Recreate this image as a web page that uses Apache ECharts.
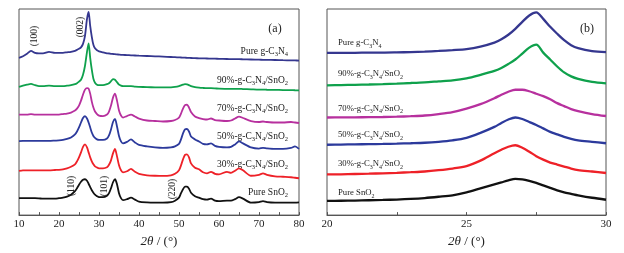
<!DOCTYPE html>
<html>
<head>
<meta charset="utf-8">
<script src="https://cdn.jsdelivr.net/npm/echarts@6/dist/echarts.min.js"></script>
<style>
  html, body { margin: 0; padding: 0; background: #fff; }
  #chart { width: 624px; height: 253px; }
</style>
</head>
<body>
<div id="chart"></div>
<script>
// panel (a): 2θ from 10 to 80, stacked patterns (offset intensity, a.u.)
var thetaA = [10, 11, 12, 13, 14, 15, 16, 17.5, 19, 20,
  21, 22, 23, 24, 24.5, 25, 25.5, 26, 26.5, 27,
  27.4, 27.8, 28.2, 28.6, 29, 29.5, 30, 31, 32, 32.5,
  33, 33.5, 34, 34.5, 35, 35.5, 36, 37, 38, 39,
  40, 42, 44, 46, 48, 49, 50, 50.5, 51, 51.5,
  52, 52.5, 53, 54, 55, 56, 57, 58, 59, 60,
  62, 63, 64, 65, 66, 68, 70, 71, 72, 74,
  76, 78, 79, 80];
var gcnA = [158, 159.5, 162, 165, 163, 162.5, 162.5, 164, 163, 163,
  163, 163.5, 164, 165, 166, 167, 168.5, 172, 180, 197,
  204, 190, 179, 171, 167.5, 165.5, 164.5, 163.5, 162.5, 162.3,
  162, 161.8, 161.6, 161.4, 161.2, 161, 160.9, 160.7, 160.5, 160.3,
  160.1, 159.8, 159.5, 159.2, 158.8, 158.6, 158.4, 158.3, 158.2, 158.1,
  158, 157.9, 157.8, 157.6, 157.5, 157.4, 157.3, 157.2, 157.1, 157,
  156.8, 156.7, 156.6, 156.6, 156.5, 156.3, 156.1, 156, 155.9, 155.8,
  155.6, 155.4, 155.3, 155.2];
var c90A = [128.7, 130, 131, 131.7, 130.5, 129.5, 129.5, 130, 129.5, 129.5,
  129.5, 130, 130.5, 131.5, 132.5, 134, 136, 141, 150, 164,
  172.5, 158, 146, 137, 133, 131, 130.5, 130.5, 131.5, 132.5,
  134.5, 136.5, 136, 133.5, 131, 130, 129.5, 129.5, 129.5, 129,
  128.8, 128.5, 128.3, 128.2, 128.3, 128.7, 129.5, 130.3, 131, 131.5,
  131.3, 130.5, 129.5, 128.5, 128, 127.7, 127.5, 127.5, 127.3, 127,
  126.8, 126.7, 126.7, 126.8, 126.6, 126.3, 126, 126, 125.9, 125.8,
  125.6, 125.5, 125.4, 125.3];
var c70A = [101, 101, 101, 101.5, 101, 101, 101, 101, 101, 101,
  101.5, 102, 103, 105, 107, 110, 115, 121, 126, 127.5,
  127, 122, 114, 108, 104, 101.5, 100, 99.5, 101, 104,
  110, 118, 122, 115, 105, 100, 98, 99.5, 101, 99,
  97, 95, 94.5, 94, 94.5, 95.5, 98, 102, 107, 110.5,
  111, 108, 103.5, 99, 97.5, 96.5, 96, 97, 95.5, 95,
  94.5, 95, 97, 99, 97.5, 94.5, 93.5, 94, 93.5, 93,
  93, 93.5, 93, 92.5];
var c50A = [74.3, 74.5, 74.5, 74.5, 74.5, 74.5, 74.5, 74.5, 74.8, 75,
  75.5, 76.5, 78, 81, 84, 88, 93, 97.5, 99.5, 97,
  93, 88, 83, 79.5, 77.5, 76, 75.5, 75.5, 77, 80,
  86, 93.5, 96.5, 89, 79.5, 74, 72, 73.5, 76, 73,
  70.5, 69, 68, 67.5, 68, 69, 71.5, 76, 82, 86,
  86.5, 84, 79, 76, 74, 71.5, 71, 72, 69.5, 68.5,
  68, 68.5, 71, 74, 72, 68, 66.8, 67.5, 67, 66.5,
  66.5, 67.5, 69, 66.5];
var c30A = [44.3, 45, 45, 45, 45, 45, 45, 45, 45.3, 45.5,
  46, 47, 48.5, 51, 54, 58, 63, 68.5, 71, 68,
  63, 58, 54, 51, 49, 47.8, 47, 47, 48, 50.5,
  55, 62, 66.5, 59, 50, 45, 43, 44, 46.5, 43.5,
  41.5, 40, 39.5, 39.3, 40, 41.5, 45, 50, 56, 60.5,
  61, 58, 52, 47.5, 46, 43, 42, 43.5, 41.5, 41,
  43.5, 42.5, 44.5, 47, 45, 39.5, 40.5, 42, 40.5, 39,
  38.5, 38, 37.5, 37];
var snA = [17, 17, 17, 17, 17, 16.8, 16.5, 16.5, 16.5, 17,
  17.5, 18.5, 20.5, 24, 27, 30.5, 33.5, 35.5, 36, 34.5,
  31.5, 28, 25, 22.5, 20.5, 19, 18, 18, 19.5, 22,
  27, 33, 36, 31, 22, 17, 15, 16, 17.5, 15.5,
  13.5, 12.7, 12.5, 12.5, 13, 14.5, 17.5, 22, 26, 28.5,
  28.5, 26.5, 22.5, 19, 17.5, 16, 15.5, 16.5, 14.5, 14,
  14.5, 14.5, 16, 18, 16.5, 12.5, 13, 14, 13, 12.5,
  12.5, 12.5, 12.5, 12.7];

// panel (b): 2θ from 20 to 30
var thetaB = [20, 20.5, 21, 21.5, 22, 22.5, 23, 23.5, 24, 24.5,
  25, 25.5, 26, 26.25, 26.5, 26.75, 27, 27.25, 27.5, 27.75,
  28, 28.25, 28.5, 28.75, 29, 29.5, 30];
var gcnB = [163.7, 163.8, 163.8, 164, 164, 164.2, 164.5, 165, 165.7, 166.5,
  167.5, 170, 174, 177.5, 182, 188, 195, 201.5, 204.5, 198,
  190, 183, 176.5, 171.5, 168.5, 165.5, 164.5];
var c90B = [131, 131.2, 131.5, 131.8, 132.2, 132.7, 133.3, 134, 135, 136,
  138, 141.5, 145.5, 148.5, 152.5, 157, 163, 169, 172, 164,
  157, 150, 144, 140, 137.5, 134.5, 133];
var c70B = [98.5, 98.6, 98.7, 98.8, 99, 99.3, 99.8, 100.5, 102, 104,
  107.5, 112, 118, 121.5, 124.5, 126.5, 126.5, 125, 122.5, 120,
  117, 113, 110, 107, 105, 102, 100];
var c50B = [71, 71.2, 71.4, 71.6, 71.8, 72.1, 72.5, 73, 74, 75.5,
  78, 83, 89, 93, 96.5, 98.5, 97, 94, 91, 87.5,
  84, 81.5, 79, 77, 75.5, 74, 72.5];
var c30B = [41, 41.2, 41.5, 41.8, 42.2, 42.7, 43.3, 44, 45.3, 47,
  49.5, 55, 62.5, 66, 69, 70.5, 68, 64, 59.5, 56,
  53, 51, 49, 47, 45.5, 44, 42.5];
var snB = [14.3, 14.5, 14.7, 15, 15.3, 15.7, 16.3, 17.2, 18.5, 20,
  23, 27, 31, 33, 35, 36.5, 36, 34.5, 32.5, 30,
  27.5, 25, 23, 21.5, 20, 17.5, 15.5];

var sampleNames = ['Pure g-C3N4', '90%-g-C3N4/SnO2', '70%-g-C3N4/SnO2',
  '50%-g-C3N4/SnO2', '30%-g-C3N4/SnO2', 'Pure SnO2'];
var sampleLabels = ['Pure g-C{s|3}N{s|4}', '90%-g-C{s|3}N{s|4}/SnO{s|2}', '70%-g-C{s|3}N{s|4}/SnO{s|2}',
  '50%-g-C{s|3}N{s|4}/SnO{s|2}', '30%-g-C{s|3}N{s|4}/SnO{s|2}', 'Pure SnO{s|2}'];
var peakLabels = ['(100)', '(002)', '(110)', '(101)', '(220)'];

var colors = ['#35378f', '#0fa14c', '#b7309e', '#2c3a9c', '#ee2128', '#111111'];
var serif = '"Liberation Serif", "Times New Roman", serif';

var myChart = echarts.init(document.getElementById('chart'));

function toPairs(xs, ys) {
  return xs.map(function (x, i) { return [x, ys[i]]; });
}

var dataA = [gcnA, c90A, c70A, c50A, c30A, snA];
var dataB = [gcnB, c90B, c70B, c50B, c30B, snB];
var series = [];
for (var i = 0; i < 6; i++) {
  series.push({
    name: sampleNames[i], type: 'line', xAxisIndex: 0, yAxisIndex: 0,
    data: toPairs(thetaA, dataA[i]), showSymbol: false, smooth: 0.25,
    lineStyle: { color: colors[i], width: 1.8 }, silent: true
  });
  series.push({
    name: sampleNames[i], type: 'line', xAxisIndex: 1, yAxisIndex: 1,
    data: toPairs(thetaB, dataB[i]), showSymbol: false, smooth: 0.3,
    lineStyle: { color: colors[i], width: 2.3 }, silent: true
  });
}

function label(text, x, y, align, size, subSize) {
  return {
    type: 'text', x: x, y: y, silent: true,
    style: {
      text: text, fill: '#222', fontSize: size, fontFamily: serif,
      align: align, verticalAlign: 'middle', textAlign: align, textVerticalAlign: 'middle',
      lineHeight: 13,
      rich: { s: { fontSize: subSize, fontFamily: serif, lineHeight: 7, verticalAlign: 'bottom', fill: '#222' } }
    }
  };
}
function peak(text, x, y) {
  return {
    type: 'text', x: x, y: y, rotation: Math.PI / 2, silent: true,
    style: {
      text: text, fill: '#222', fontSize: 9.5, fontFamily: serif,
      align: 'center', verticalAlign: 'middle', textAlign: 'center', textVerticalAlign: 'middle'
    }
  };
}

var rowY = [51.7, 80, 108.3, 136, 164, 192.7];
var rowYB = [42.7, 74, 108.3, 135, 164, 192.7];
var graphics = [];
for (var k = 0; k < 6; k++) {
  graphics.push(label(sampleLabels[k], 288, rowY[k], 'right', 9.5, 6.5));
  graphics.push(label(sampleLabels[k], 338, rowYB[k], 'left', 8.7, 6));
}
graphics.push(label('(a)', 275, 29, 'center', 12, 7));
graphics.push(label('(b)', 587, 29, 'center', 12, 7));
graphics.push(peak(peakLabels[0], 34, 36));
graphics.push(peak(peakLabels[1], 80, 27));
graphics.push(peak(peakLabels[2], 71, 186));
graphics.push(peak(peakLabels[3], 104, 186));
graphics.push(peak(peakLabels[4], 172, 189));

function xAxisCfg(idx, min, max, interval) {
  return {
    type: 'value', gridIndex: idx, min: min, max: max, interval: interval,
    name: '{i|2θ} / (°)', nameLocation: 'middle', nameGap: 16,
    nameTextStyle: {
      color: '#222', fontSize: 13, fontFamily: serif,
      rich: { i: { fontStyle: 'italic', fontSize: 13, fontFamily: serif, color: '#222' } }
    },
    axisLine: { show: true, lineStyle: { color: '#555', width: 1 } },
    axisTick: { show: true, inside: true, length: 3, lineStyle: { color: '#555' } },
    minorTick: { show: true, splitNumber: 2, length: 3, lineStyle: { color: '#555' } },
    splitLine: { show: false },
    axisLabel: { color: '#222', fontSize: 11, fontFamily: serif, margin: 4 }
  };
}

var option = {
  animation: false,
  backgroundColor: '#fff',
  grid: [
    { left: 19, top: 9, width: 280, height: 207, show: true, borderColor: '#555', borderWidth: 1, backgroundColor: 'transparent' },
    { left: 327, top: 9, width: 279, height: 208, show: true, borderColor: '#555', borderWidth: 1, backgroundColor: 'transparent' }
  ],
  xAxis: [xAxisCfg(0, 10, 80, 10), xAxisCfg(1, 20, 30, 5)],
  yAxis: [
    { type: 'value', gridIndex: 0, min: 0, max: 207, show: false },
    { type: 'value', gridIndex: 1, min: 0, max: 208, show: false }
  ],
  series: series,
  graphic: { elements: graphics }
};

myChart.setOption(option);
</script>
</body>
</html>
